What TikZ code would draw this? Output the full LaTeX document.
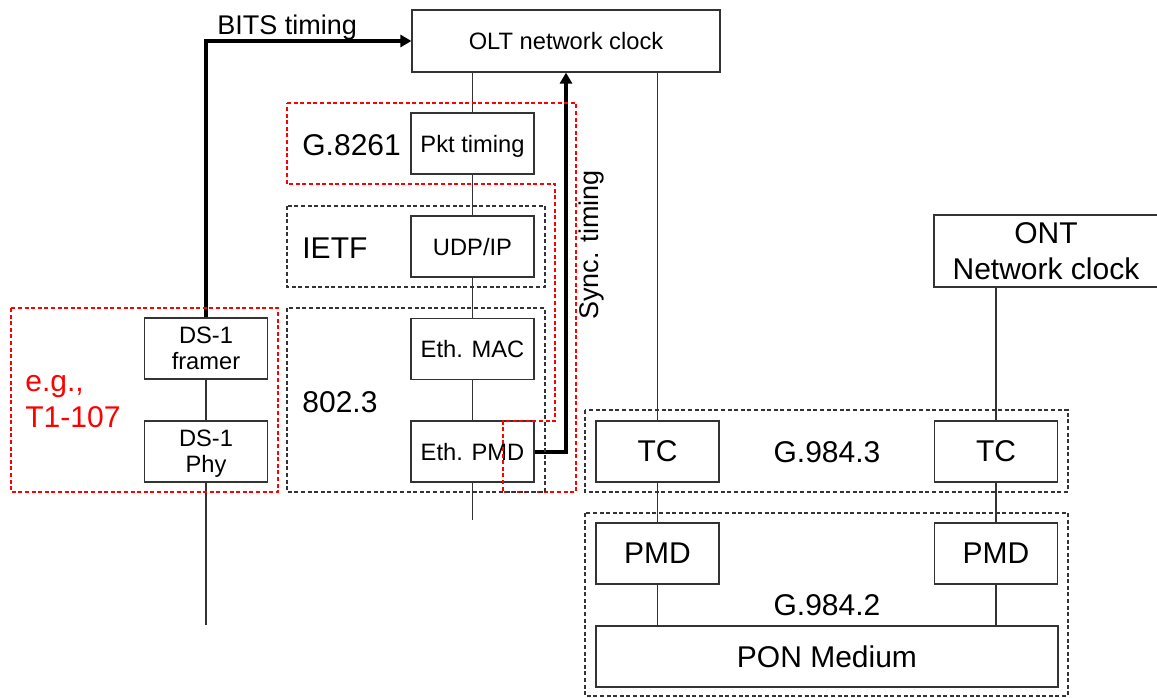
\documentclass[tikz,border=0pt]{standalone}
\usepackage{fontspec}
\setmainfont{Liberation Sans}
\usetikzlibrary{arrows.meta}

\newcommand{\boxfont}{\fontsize{11.85}{13}\selectfont}
\newcommand{\bigfont}{\fontsize{15}{18}\selectfont}
\newcommand{\arrfont}{\fontsize{13.5}{16}\selectfont}

\begin{document}
\begin{tikzpicture}[x=0.5pt, y=-0.5pt,
    box/.style={draw=black!80, line width=0.6pt, minimum width=61.5pt, minimum height=30.5pt,
        inner sep=0pt, text depth=0pt, align=center, font=\boxfont},
    bigbox/.style={box, font=\bigfont},
    link/.style={draw=black!80, line width=0.6pt},
    timing/.style={line width=2pt},
    grp/.style={draw=black!80, line width=0.6pt, dash pattern=on 2pt off 1.3pt},
    redgrp/.style={grp, draw=red},
    grplabel/.style={inner sep=0pt, font=\bigfont, align=center},
    >={Triangle[length=5.5pt, width=6pt]}]

\useasboundingbox (0,0) rectangle (1157,697);

% OLT side stack
\node[box, minimum width=154pt, minimum height=31pt] (olt) at (566,41) {OLT network clock};
\node[box] (pkt) at (472.5,143.5) {Pkt timing};
\node[box] (udp) at (472.5,246.5) {UDP/IP};
\node[box] (mac) at (472.5,349) {Eth. MAC};
\node[box] (pmd) at (472.5,451.5) {Eth. PMD};
\coordinate (ethout) at (472.5,520);

% DS-1 stack
\node[box] (framer) at (206,348.5) {DS-1\\framer};
\node[box] (phy) at (206,451.5) {DS-1\\Phy};
\coordinate (dsout) at (206,625);

% PON part
\node[bigbox] (tcl) at (657.5,451.5) {TC};
\node[bigbox] (tcr) at (996,451.5) {TC};
\node[bigbox] (pmdl) at (657.5,553.5) {PMD};
\node[bigbox] (pmdr) at (996,553.5) {PMD};
\node[bigbox, minimum width=231pt] (pon) at (827,656.5) {PON Medium};
\node[bigbox, minimum width=112pt, minimum height=36pt] (ont) at (1046,251) {ONT\\Network clock};

% links
\draw[link] (olt.south -| pkt.north) -- (pkt) -- (udp) -- (mac) -- (pmd) -- (ethout);
\draw[link] (framer) -- (phy) -- (dsout);
\draw[link] (olt.south -| tcl.north) -- (tcl) -- (pmdl) -- (pmdl.south |- pon.north);
\draw[link] (ont.south -| tcr.north) -- (tcr) -- (pmdr) -- (pmdr.south |- pon.north);

% timing paths
\draw[timing, ->] (framer.north) |- (olt.west);
\draw[timing, ->] (pmd.east) -| (olt.south);
\node[inner sep=0pt, font=\arrfont, anchor=base west] (bits) at (217,34) {BITS timing};
\node[inner sep=0pt, font=\arrfont, rotate=90] (sync) at (592,245) {Sync. timing};

% standard groups
\draw[redgrp] (287,103) -- (576,103) -- (576,492) -- (503,492) -- (503,421)
    -- (555,421) -- (555,184) -- (287,184) -- cycle;
\draw[grp] (287,206) rectangle (545,287);
\draw[grp] (287,308) rectangle (545,492);
\draw[redgrp] (11,308) rectangle (278,492);
\draw[grp] (585,410) rectangle (1068,492);
\draw[grp] (585,513) rectangle (1068,696);

\node[grplabel, anchor=west] (g8261) at (302,145) {G.8261};
\node[grplabel, anchor=west] (ietf) at (302,248) {IETF};
\node[grplabel, anchor=west] (ieee) at (302,402) {802.3};
\node[grplabel, anchor=west, align=left, text=red] (t1) at (25,402) {e.g.,\\T1-107};
\node[grplabel] (g9843) at (827,452) {G.984.3};
\node[grplabel] (g9842) at (827,605) {G.984.2};
\end{tikzpicture}
\end{document}
